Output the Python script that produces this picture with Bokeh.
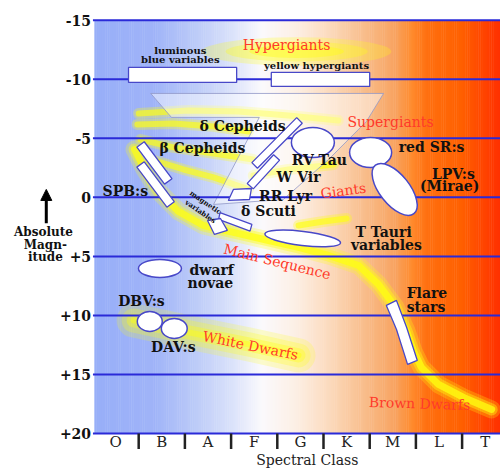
import numpy as np
from bokeh.plotting import figure
from bokeh.models import Range1d, Arrow, NormalHead
from bokeh.core.properties import value
from bokeh.embed import file_html
from bokeh.resources import INLINE

# ---------------- data (x = spectral class units, class i spans [i, i+1]; y = absolute magnitude) ----
class_labels = ["O", "B", "A", "F", "G", "K", "M", "L", "T"]
class_centers = [0.5, 1.5, 2.5, 3.5, 4.5, 5.5, 6.5, 7.5, 8.5]
class_bounds = [1, 2, 3, 4, 5, 6, 7, 8]
mag_ticks = [-15, -10, -5, 0, 5, 10, 15, 20]
mag_tick_labels = ["-15", "-10", "-5", "0", "+5", "+10", "+15", "+20"]
x_min, x_max = 0.04, 8.831

# background colour stops (spectral position -> colour)
bg_stop_x = [0.04, 1.34, 2.21, 3.07, 3.66, 4.37, 5.09, 5.82, 6.54, 6.90, 7.25, 7.99, 8.83]
bg_stop_col = ["#98aff8", "#a0b4f8", "#bccbf8", "#dde4fb", "#fbfafd", "#fdf0e6", "#fcdcc0",
               "#f9c090", "#f8a462", "#ff8c30", "#ff7010", "#ff6000", "#ff3000"]

# yellow evolutionary tracks
ms_x = [0.91, 1.13, 1.43, 1.86, 2.40, 3.05, 3.81, 4.46, 5.11, 5.76, 6.19, 6.56, 6.80, 6.95, 7.12, 7.49, 8.03, 8.64]
ms_m = [-4.06, -2.36, -0.50, 1.19, 2.38, 2.97, 3.65, 4.24, 4.92, 5.77, 7.37, 9.32, 11.35, 13.04, 14.40, 15.84, 16.94, 17.96]
track_xs = [[1.00, 2.08, 3.16, 4.24, 5.32],
            [0.97, 1.75, 2.62, 3.38],
            [1.04, 1.75, 2.62, 3.48],
            [1.26, 1.97, 2.62, 3.38],
            [3.48, 4.24, 5.22],
            [4.46, 5.00, 5.50]]
track_ms = [[-7.10, -7.36, -7.27, -6.93, -6.51],
            [-6.18, -6.26, -6.01, -5.58],
            [-4.90, -4.23, -3.72, -3.21],
            [-3.21, -2.36, -1.69, -0.67],
            [-1.85, -2.36, -2.79],
            [2.38, 2.04, 1.79]]
wd_x = [0.89, 2.08, 3.38, 4.46]
wd_m = [10.42, 11.43, 12.45, 13.38]
hyper_glow = dict(x=4.42, m=-12.35, w=4.1, h=2.4)

# instability funnel
funnel_x = [1.26, 6.30, 5.93, 5.11, 4.13, 2.62, 3.61, 1.71]
funnel_m = [-8.80, -8.80, -6.43, -3.21, 0.18, 0.60, -6.77, -6.77]

# rectangular regions: luminous blue variables, yellow hypergiants
box_left = [0.78, 3.87]
box_right = [3.12, 6.00]
box_top = [-11.0, -10.58]
box_bottom = [-9.73, -9.39]

# rotated strips (polygons)
strip_xs = [[3.45, 4.42, 4.54, 3.57],   # delta Cephei
            [3.35, 3.92, 4.05, 3.48],   # W Vir
            [3.05, 3.44, 3.40, 2.94],   # RR Lyr
            [2.76, 3.45, 3.41, 2.73],   # delta Scuti
            [2.49, 2.77, 2.92, 2.64],   # magnetic
            [0.96, 1.12, 1.72, 1.56],   # beta Cephei
            [0.96, 1.12, 1.77, 1.61],   # SPB
            [6.36, 6.58, 6.82, 7.03, 6.80, 6.58]]  # flare stars
strip_ms = [[-2.94, -6.75, -6.27, -2.46],
            [-1.18, -3.61, -3.15, -0.72],
            [-0.67, -0.75, 0.18, 0.26],
            [1.30, 2.29, 2.86, 1.87],
            [1.96, 1.79, 2.80, 3.14],
            [-4.25, -4.71, -1.58, -1.12],
            [-2.56, -3.01, 0.37, 0.83],
            [9.15, 11.19, 14.14, 13.81, 11.02, 8.73]]

# ellipses: RV Tau, red SR, LPV, T Tauri, dwarf novae, DBV, DAV
ell_x = [4.77, 6.02, 6.54, 4.55, 1.46, 1.24, 1.77]
ell_m = [-4.65, -3.80, -0.67, 3.48, 6.02, 10.51, 11.10]
ell_w = [0.93, 0.91, 1.34, 1.65, 0.93, 0.54, 0.56]
ell_h = [2.54, 2.54, 2.54, 1.19, 1.52, 1.69, 1.69]
ell_angle = [0.0, 0.0, -0.9, -0.12, 0.0, 0.0, 0.0]

# labels
black_text = ["δ Cepheids", "β Cepheids", "red SR:s", "RV Tau", "W Vir", "RR Lyr", "δ Scuti",
              "LPV:s", "(Mirae)", "SPB:s", "T Tauri", "variables", "dwarf", "novae", "DBV:s", "DAV:s"]
black_x = [3.25, 2.38, 7.34, 4.91, 4.46, 4.18, 3.81, 7.81, 7.73, 0.71, 6.30, 6.36, 2.58, 2.55, 1.06, 1.75]
black_m = [-6.01, -4.14, -4.23, -3.13, -1.69, -0.08, 1.19, -2.02, -0.92, -0.58, 2.97, 4.07, 6.19, 7.29, 8.81, 12.71]
flare_text = ["Flare", "stars"]
flare_x = [6.80, 6.80]
flare_m = [8.14, 9.32]
small_text = ["luminous", "blue variables", "yellow hypergiants"]
small_x = [1.90, 1.90, 4.85]
small_m = [-12.44, -11.68, -11.17]
mag_text = ["magnetic", "variables"]
mag_x = [2.45, 2.34]
mag_m = [0.43, 1.19]
red_text = ["Hypergiants", "Supergiants", "Giants", "Main Sequence", "White Dwarfs", "Brown Dwarfs"]
red_x = [4.20, 6.45, 5.43, 4.00, 3.42, 7.08]
red_m = [-12.86, -6.35, -0.58, 5.43, 12.54, 17.45]
red_angle = [0.0, 0.0, 0.13, -0.24, -0.2, -0.03]
ylab_text = ["Absolute", "Magn-", "itude"]
ylab_x = [-1.06, -1.02, -1.02]
ylab_m = [2.97, 4.07, 5.01]
arrow_x = -1.0
arrow_m = [2.2, -0.67]
xlab_x, xlab_m = 4.65, 22.2
tick_label_m = 20.75
tick_bar_m = [20.0, 21.3]

# ---------------- figure ----------------
p = figure(width=500, height=468, x_range=Range1d(-1.991, 8.831), y_range=Range1d(22.96, -16.67),
           output_backend="svg", toolbar_location=None, x_axis_type=None, y_axis_type=None,
           min_border=0)
p.outline_line_color = None
p.background_fill_color = "white"
p.border_fill_color = "white"

# background gradient
def hex2rgb(h):
    return [int(h[i:i + 2], 16) for i in (1, 3, 5)]
stops = np.array([hex2rgb(c) for c in bg_stop_col], dtype=float)
edges = np.linspace(x_min, x_max, 221)
mids = 0.5 * (edges[:-1] + edges[1:])
cols = []
for xm in mids:
    r = np.interp(xm, bg_stop_x, stops[:, 0])
    g = np.interp(xm, bg_stop_x, stops[:, 1])
    b = np.interp(xm, bg_stop_x, stops[:, 2])
    cols.append("#%02x%02x%02x" % (int(r), int(g), int(b)))
p.quad(left=edges[:-1], right=edges[1:] + 0.01, top=mag_ticks[0], bottom=mag_ticks[-1],
       fill_color=cols, line_color=None)

# yellow glows
YEL = "#ffff10"
for w, h, a in [(hyper_glow["w"], hyper_glow["h"], 0.25), (hyper_glow["w"] * 0.75, hyper_glow["h"] * 0.7, 0.3),
                (hyper_glow["w"] * 0.5, hyper_glow["h"] * 0.45, 0.4)]:
    p.ellipse(x=hyper_glow["x"], y=hyper_glow["m"], width=w, height=h, fill_color=YEL, fill_alpha=a, line_color=None)
for lw, a in [(34, 0.2), (24, 0.25), (14, 0.35), (6, 0.45)]:
    p.line(wd_x, wd_m, line_width=lw, line_alpha=a, line_color=YEL, line_cap="round", line_join="round")
for lw, a in [(11, 0.3), (6, 0.65)]:
    p.multi_line(track_xs, track_ms, line_width=lw, line_alpha=a, line_color=YEL, line_cap="round", line_join="round")
for lw, a in [(18, 0.25), (12, 0.4), (7, 0.75)]:
    p.line(ms_x, ms_m, line_width=lw, line_alpha=a, line_color=YEL, line_cap="round", line_join="round")

# funnel
p.patch(funnel_x, funnel_m, fill_color="white", fill_alpha=0.45, line_color="#9098c8", line_width=0.8)

# horizontal lines
p.segment(x0=[x_min - 0.03] * len(mag_ticks), x1=[x_max] * len(mag_ticks), y0=mag_ticks, y1=mag_ticks,
          line_color="#2a2ad8", line_width=2)

# shapes
OUT = "#4848c8"
p.quad(left=box_left, right=box_right, top=box_top, bottom=box_bottom, fill_color="white",
       line_color=OUT, line_width=1.3)
p.patches(strip_xs, strip_ms, fill_color="white", line_color=OUT, line_width=1.3)
p.ellipse(x=ell_x, y=ell_m, width=ell_w, height=ell_h, angle=ell_angle, fill_color="white",
          line_color=OUT, line_width=1.5)

# texts
SERIF = value("DejaVu Serif")
p.text(black_x, black_m, text=black_text, text_font=SERIF, text_font_size=value("14px"),
       text_font_style="bold", text_align="center", text_baseline="middle", text_color="#111111")
p.text(flare_x, flare_m, text=flare_text, text_font=SERIF, text_font_size=value("14px"),
       text_font_style="bold", text_align="left", text_baseline="middle", text_color="#111111")
p.text(small_x, small_m, text=small_text, text_font=SERIF, text_font_size=value("10px"),
       text_font_style="bold", text_align="center", text_baseline="middle", text_color="#111111")
p.text(mag_x, mag_m, text=mag_text, text_font=SERIF, text_font_size=value("7px"), angle=-0.6,
       text_font_style="bold", text_align="center", text_baseline="middle", text_color="#111111")
p.text(red_x, red_m, text=red_text, angle=red_angle, text_font=SERIF, text_font_size=value("14px"),
       text_align="center", text_baseline="middle", text_color="#ff3a2a")
p.text([-0.03] * len(mag_ticks), mag_ticks, text=mag_tick_labels, text_font=SERIF,
       text_font_size=value("14px"), text_font_style="bold", text_align="right", text_baseline="middle",
       text_color="#111111")
p.text(ylab_x, ylab_m, text=ylab_text, text_font=SERIF, text_font_size=value("12px"),
       text_font_style="bold", text_align="center", text_baseline="middle", text_color="#111111")
p.text(class_centers, [tick_label_m] * len(class_centers), text=class_labels, text_font=SERIF,
       text_font_size=value("15px"), text_align="center", text_baseline="middle", text_color="#222222")
p.segment(x0=class_bounds, x1=class_bounds, y0=[tick_bar_m[0]] * len(class_bounds),
          y1=[tick_bar_m[1]] * len(class_bounds), line_color="#222222", line_width=2.5)
p.text([xlab_x], [xlab_m], text=["Spectral Class"], text_font=SERIF, text_font_size=value("14px"),
       text_align="center", text_baseline="middle", text_color="#222222")
p.add_layout(Arrow(end=NormalHead(size=11, fill_color="black", line_color="black"),
                   x_start=arrow_x, y_start=arrow_m[0], x_end=arrow_x, y_end=arrow_m[1],
                   line_width=3, line_color="black"))

open("out.html", "w").write(file_html(p, INLINE))
